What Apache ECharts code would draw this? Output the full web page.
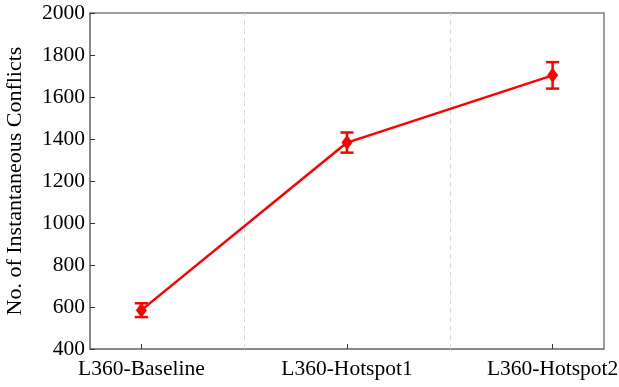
<!DOCTYPE html>
<html>
<head>
<meta charset="utf-8">
<script src="https://cdn.jsdelivr.net/npm/echarts@6/dist/echarts.min.js"></script>
<style>html,body{margin:0;padding:0;background:#fff;}#c{width:619px;height:387px;}</style>
</head>
<body>
<div id="c"></div>
<script>
var categories = ['L360-Baseline', 'L360-Hotspot1', 'L360-Hotspot2'];
var means = [585, 1383, 1703];
var errors = [33, 48, 63];
var yTicks = [400, 600, 800, 1000, 1200, 1400, 1600, 1800, 2000];

var FONT = 'Liberation Serif';
var AX = '#808080';
var RED = '#ff0000';

var lineData = means.map(function (v, i) { return [i, v]; });
var errData = means.map(function (v, i) { return [i, v - errors[i], v + errors[i]]; });

var chart = echarts.init(document.getElementById('c'), null, { renderer: 'canvas' });
chart.setOption({
  animation: false,
  grid: { left: 90, right: 15, top: 13, bottom: 38, outerBoundsMode: 'none', containLabel: false, show: true, borderColor: AX, borderWidth: 1.5, backgroundColor: 'transparent' },
  xAxis: {
    type: 'value', min: -0.25, max: 2.25,
    axisLine: { show: true, onZero: false, lineStyle: { color: AX, width: 1.5 } },
    axisTick: { show: true, inside: true, length: 5, lineStyle: { color: '#333' }, customValues: [0, 1, 2] },
    axisLabel: {
      customValues: [0, 1, 2], margin: 9,
      formatter: function (v) { return categories[Math.round(v)]; },
      fontFamily: FONT, fontSize: 21.5, color: '#000'
    },
    splitLine: { show: false }
  },
  yAxis: {
    type: 'value', min: 400, max: 2000, interval: 200,
    name: 'No. of Instantaneous Conflicts', nameLocation: 'middle', nameGap: 64,
    nameTextStyle: { fontFamily: FONT, fontSize: 22, color: '#000' },
    axisLine: { show: true, onZero: false, lineStyle: { color: AX, width: 1.5 } },
    axisTick: { show: true, inside: true, length: 5, lineStyle: { color: '#333' } },
    axisLabel: {
      margin: 5, fontFamily: FONT, fontSize: 21.5, color: '#000',
      formatter: function (v) { return yTicks.indexOf(v) >= 0 ? String(v) : ''; }
    },
    splitLine: { show: false }
  },
  series: [
    {
      type: 'line', data: lineData,
      lineStyle: { color: RED, width: 2.5 },
      itemStyle: { color: RED },
      symbol: 'diamond', symbolSize: [11, 15], showSymbol: true,
      z: 3,
      markLine: {
        silent: true, symbol: 'none', label: { show: false },
        lineStyle: { color: '#d9d9d9', type: [5, 4], width: 1 },
        data: [{ xAxis: 0.5 }, { xAxis: 1.5 }],
        z: 1
      }
    },
    {
      type: 'custom', data: errData, z: 4,
      encode: { x: 0, y: [1, 2] },
      renderItem: function (params, api) {
        var x = api.value(0);
        var lo = api.coord([x, api.value(1)]);
        var hi = api.coord([x, api.value(2)]);
        var hw = 6.5;
        var st = { stroke: RED, lineWidth: 2.5 };
        return {
          type: 'group',
          children: [
            { type: 'line', shape: { x1: lo[0], y1: lo[1], x2: hi[0], y2: hi[1] }, style: st },
            { type: 'line', shape: { x1: lo[0] - hw, y1: lo[1], x2: lo[0] + hw, y2: lo[1] }, style: st },
            { type: 'line', shape: { x1: hi[0] - hw, y1: hi[1], x2: hi[0] + hw, y2: hi[1] }, style: st }
          ]
        };
      }
    }
  ]
});
</script>
</body>
</html>
